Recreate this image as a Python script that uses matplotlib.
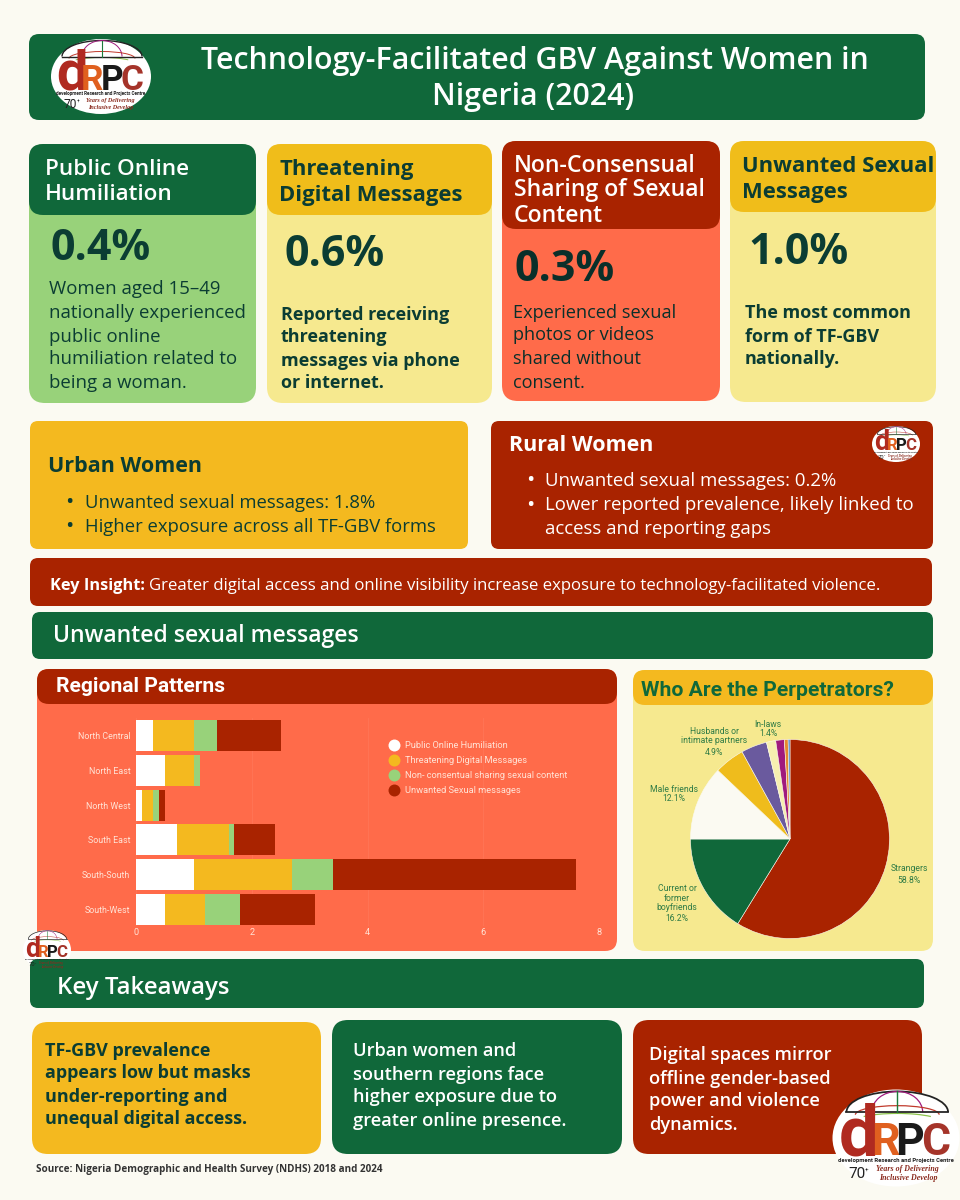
import matplotlib
matplotlib.use("Agg")
import matplotlib.pyplot as plt
from matplotlib.patches import FancyBboxPatch, Ellipse, Arc

W, H = 960, 1200
PT = 0.72
GREEN = "#10683A"; YEL = "#F4B91F"; PALE = "#F6E98F"; CORAL = "#FF6B4A"; RED = "#A92300"
LGREEN = "#98D27A"; BG = "#FBFAF2"; DARK = "#0B3D33"; WHITE = "#FFFFFF"

regions = ["North Central", "North East", "North West", "South East", "South-South", "South-West"]
humiliation = [0.3, 0.5, 0.1, 0.7, 1.0, 0.5]
threatening = [0.7, 0.5, 0.2, 0.9, 1.7, 0.7]
nonconsensual = [0.4, 0.1, 0.1, 0.1, 0.7, 0.6]
unwanted = [1.1, 0.0, 0.1, 0.7, 4.2, 1.3]
series_names = ["Public Online Humiliation", "Threatening Digital Messages",
                "Non- consentual sharing sexual content", "Unwanted Sexual messages"]
series_colors = [WHITE, YEL, LGREEN, RED]
x_ticks = [0, 2, 4, 6, 8]

pie_values = [58.8, 16.2, 12.1, 4.9, 4.2, 1.5, 1.4, 0.6, 0.3]
pie_colors = [RED, GREEN, "#FBFAF2", "#EFBC1C", "#6A5A9E", "#F6EFB0", "#A01A7D", "#E58A2E", "#3C78C8"]

fig = plt.figure(figsize=(W / 100, H / 100), dpi=100, facecolor=BG)


def px_axes(z):
    a = fig.add_axes([0, 0, 1, 1], zorder=z)
    a.set_xlim(0, W); a.set_ylim(H, 0); a.axis("off")
    a.patch.set_alpha(0)
    return a


bg = px_axes(0)
top = px_axes(3)


def box(ax, x0, y0, x1, y1, color, r=12):
    ax.add_patch(FancyBboxPatch((x0, y0), x1 - x0, y1 - y0, boxstyle=f"round,pad=0,rounding_size={r}",
                                fc=color, ec="none", lw=0))


def T(ax, x, y, s, px, color, weight="normal", ha="left", family="Open Sans", style="normal"):
    return ax.text(x, y + 1.5, s, fontsize=px * PT, color=color, fontweight=weight, ha=ha, va="center",
                   family=family, fontstyle=style)


def lines(ax, x, ys, strs, px, color, weight="normal", family="Open Sans"):
    for y, s in zip(ys, strs):
        T(ax, x, y, s, px, color, weight, family=family)


def logo(ax, cx, cy, w, h):
    k = w / 100
    ax.add_patch(Ellipse((cx, cy), w, h, fc=WHITE, ec="none"))
    X = lambda d: cx + d * k
    Y = lambda d: cy + d * h / 75
    lw = max(0.4, 1.0 * k)
    ax.add_patch(Arc((X(1), Y(-20)), 80 * k, 32 * h / 75, theta1=180, theta2=360, ec="#222222", lw=lw))
    ax.add_patch(Arc((X(1), Y(-20)), 40 * k, 32 * h / 75, theta1=180, theta2=360, ec="#A01A7D", lw=lw * .7))
    ax.add_patch(Arc((X(1), Y(-18)), 66 * k, 14 * h / 75, theta1=180, theta2=360, ec="#C0392B", lw=lw * .7))
    ax.add_patch(Arc((X(1), Y(-12)), 70 * k, 14 * h / 75, theta1=190, theta2=350, ec="#8BC34A", lw=lw * .7))
    ax.plot([X(-39), X(41)], [Y(-20), Y(-20)], color="#222222", lw=lw)
    ax.plot([X(1), X(1)], [Y(-36), Y(-20)], color="#1B7A3A", lw=lw * .8)
    for d, s, col, fpx in [(-29, "d", "#B02A20", 56), (-8.7, "R", "#E0601F", 35),
                           (10.7, "P", "#1A1A1A", 35), (31.5, "C", "#A5342A", 35)]:
        ax.text(X(d), Y(13.5), s, fontsize=fpx * k * PT, color=col, fontweight="bold", ha="center",
                va="baseline", family="Roboto")
    ax.text(X(0), Y(17.5), "development Research and Projects Centre", fontsize=4.6 * k * PT, color="#222222",
            fontweight="bold", ha="center", va="center", family="Roboto")
    ax.text(X(-31), Y(28), "70", fontsize=12 * k * PT, color="#222222", ha="center", va="center", family="Roboto")
    ax.text(X(-23), Y(25), "+", fontsize=5 * k * PT, color="#222222", ha="center", va="center", family="Roboto")
    ax.text(X(9), Y(24), "Years of Delivering", fontsize=6.2 * k * PT, color="#8A2A1E", ha="center", va="center",
            family="Liberation Serif", fontstyle="italic", fontweight="bold")
    ax.text(X(10), Y(31), "Inclusive Develop", fontsize=6.2 * k * PT, color="#8A2A1E", ha="center", va="center",
            family="Liberation Serif", fontstyle="italic", fontweight="bold")


# Title banner
box(bg, 29, 34, 925, 120, GREEN, 10)
T(bg, 535, 59, "Technology-Facilitated GBV Against Women in", 30.4, WHITE, "semibold", "center")
T(bg, 533, 96, "Nigeria (2024)", 30.4, WHITE, "semibold", "center")

# Stat cards
box(bg, 29, 144, 256, 403, LGREEN, 16); box(bg, 29, 144, 256, 215, GREEN, 14)
lines(bg, 45, [168, 193], ["Public Online", "Humiliation"], 22.5, WHITE, "semibold")
T(bg, 51, 247, "0.4%", 43, DARK, "bold")
lines(bg, 49, [288, 311, 335, 358, 381],
      ["Women aged 15–49", "nationally experienced", "public online", "humiliation related to", "being a woman."],
      18.6, DARK)

box(bg, 267, 144, 492, 403, PALE, 16); box(bg, 267, 144, 492, 215, "#F0BD1A", 14)
lines(bg, 279, [168, 194], ["Threatening", "Digital Messages"], 22, DARK, "bold")
T(bg, 285, 253, "0.6%", 43, DARK, "bold")
lines(bg, 281, [313, 336, 360, 382],
      ["Reported receiving", "threatening", "messages via phone", "or internet."], 18, DARK, "bold")

box(bg, 502, 141, 720, 401, CORAL, 16); box(bg, 502, 141, 720, 229, RED, 14)
lines(bg, 514, [164, 189, 214], ["Non-Consensual", "Sharing of Sexual", "Content"], 23, WHITE, "semibold")
T(bg, 515, 268, "0.3%", 43, "#0A2F2A", "bold")
lines(bg, 513, [311, 334, 358, 381],
      ["Experienced sexual", "photos or videos", "shared without", "consent."], 18.2, "#0A2F2A")

box(bg, 730, 141, 936, 402, PALE, 16); box(bg, 730, 141, 936, 212, "#F0BD1A", 14)
lines(bg, 742, [165, 191], ["Unwanted Sexual", "Messages"], 22, DARK, "bold")
T(bg, 748, 251, "1.0%", 43, DARK, "bold")
lines(bg, 745, [311, 335, 358], ["The most common", "form of TF-GBV", "nationally."], 18, DARK, "bold")

# Urban / rural
box(bg, 30, 421, 468, 549, YEL, 8)
T(bg, 48, 465, "Urban Women", 21.5, DARK, "bold")
for y, s in [(501, "Unwanted sexual messages: 1.8%"), (525, "Higher exposure across all TF-GBV forms")]:
    T(bg, 65, y, "•", 22, DARK); T(bg, 85, y, s, 18.5, DARK)

box(bg, 491, 421, 933, 549, RED, 8)
T(bg, 509, 444, "Rural Women", 21.5, WHITE, "bold")
for y, s, b in [(479, "Unwanted sexual messages: 0.2%", True),
                (504, "Lower reported prevalence, likely linked to", True),
                (527, "access and reporting gaps", False)]:
    if b:
        T(bg, 526, y, "•", 22, WHITE)
    T(bg, 545, y, s, 18.6, WHITE)

# Insight and section banner
box(bg, 30, 558, 932, 606, RED, 8)
T(bg, 50, 585, "Key Insight:", 16.4, WHITE, "bold")
T(bg, 149, 585, "Greater digital access and online visibility increase exposure to technology-facilitated violence.",
  16.7, WHITE)
box(bg, 32, 612, 933, 659, GREEN, 8)
T(bg, 53, 635, "Unwanted sexual messages", 23, WHITE, "semibold")

# Chart panels
box(bg, 37, 669, 617, 951, CORAL, 12); box(bg, 37, 669, 617, 704, RED, 12)
T(bg, 56, 685, "Regional Patterns", 21, WHITE, "bold", family="Roboto")
box(bg, 633, 670, 933, 951, PALE, 12); box(bg, 633, 670, 933, 705, YEL, 12)
T(bg, 641, 689, "Who Are the Perpetrators?", 21.2, GREEN, "bold", family="Roboto")

# Stacked bars
ax = fig.add_axes([136 / W, 1 - 926.4 / H, (599 - 136) / W, (926.4 - 718.4) / H], zorder=1)
ax.patch.set_alpha(0)
left = [0.0] * len(regions)
for vals, name, col in zip([humiliation, threatening, nonconsensual, unwanted], series_names, series_colors):
    ax.barh(regions, vals, left=left, height=0.894, color=col, label=name, lw=0, zorder=2)
    left = [a + b for a, b in zip(left, vals)]
ax.set_ylim(5.5, -0.5); ax.set_xlim(0, 8)
ax.set_xticks(x_ticks)
ax.grid(axis="x", color="#FFFFFF", alpha=0.07, lw=0.6, zorder=0)
for s in ax.spines.values():
    s.set_visible(False)
ax.tick_params(axis="y", length=0, colors="#FFE3D6", labelsize=6.4, pad=4, labelfontfamily="Roboto")
ax.tick_params(axis="x", length=0, colors="#FFE3D6", labelsize=6.6, pad=1, labelfontfamily="Roboto")
leg = ax.legend(handles=[plt.Line2D([], [], marker="o", ls="", ms=8.6, mfc=c, mec="none", label=n)
                         for c, n in zip(series_colors, series_names)],
                loc="upper left", bbox_to_anchor=((384.5 - 136) / 463, 1 - (741.5 - 718.4) / 208), frameon=False,
                prop={"family": "Roboto", "size": 6.7}, labelcolor="#FFE3D6", labelspacing=0.62,
                handletextpad=0.2, borderpad=0, borderaxespad=0)

# Pie
r = 99.5
pax = fig.add_axes([(790 - r) / W, 1 - (839 + r) / H, 2 * r / W, 2 * r / H], zorder=1)
pax.pie(pie_values, colors=pie_colors, startangle=90, counterclock=False, radius=1,
        wedgeprops=dict(lw=0.4, ec=BG))
pax.set_xlim(-1, 1); pax.set_ylim(-1, 1)
LBL = "#2F7B45"
for x, y, s in [(909, 868, "Strangers"), (909, 880, "58.8%"),
                (677, 888, "Current or"), (677, 898, "former"), (677, 907, "boyfriends"), (677, 918, "16.2%"),
                (674, 789, "Male friends"), (674, 798, "12.1%"),
                (714, 731, "Husbands or"), (714, 740, "intimate partners"), (714, 752, "4.9%"),
                (768, 724, "In-laws"), (768, 733, "1.4%")]:
    T(top, x, y - 1, s, 8.6, LBL, ha="center", family="Roboto")

# Logos under the takeaway banner
logo(top, 47, 950, 48, 40)

# Takeaways
box(top, 30, 959, 924, 1008, GREEN, 8)
T(top, 57, 986, "Key Takeaways", 24, WHITE, "semibold")
box(top, 32, 1022, 321, 1154, YEL, 16)
lines(top, 45, [1049, 1072, 1095, 1118],
      ["TF-GBV prevalence", "appears low but masks", "under-reporting and", "unequal digital access."], 18, DARK, "bold")
box(top, 332, 1020, 622, 1154, GREEN, 16)
lines(top, 353, [1049, 1073, 1096, 1120],
      ["Urban women and", "southern regions face", "higher exposure due to", "greater online presence."], 18.3, WHITE, "semibold")
box(top, 633, 1020, 922, 1154, RED, 16)
lines(top, 649, [1053, 1077, 1100, 1124],
      ["Digital spaces mirror", "offline gender-based", "power and violence", "dynamics."], 18.3, WHITE, "semibold")
T(top, 36, 1168, "Source: Nigeria Demographic and Health Survey (NDHS) 2018 and 2024", 9.9, "#333333", "bold")

logo(top, 101, 76.5, 100, 75)
logo(top, 896, 444, 48, 36)
logo(top, 896, 1138, 127, 97)

fig.savefig("out.png", dpi=100, facecolor=BG)
